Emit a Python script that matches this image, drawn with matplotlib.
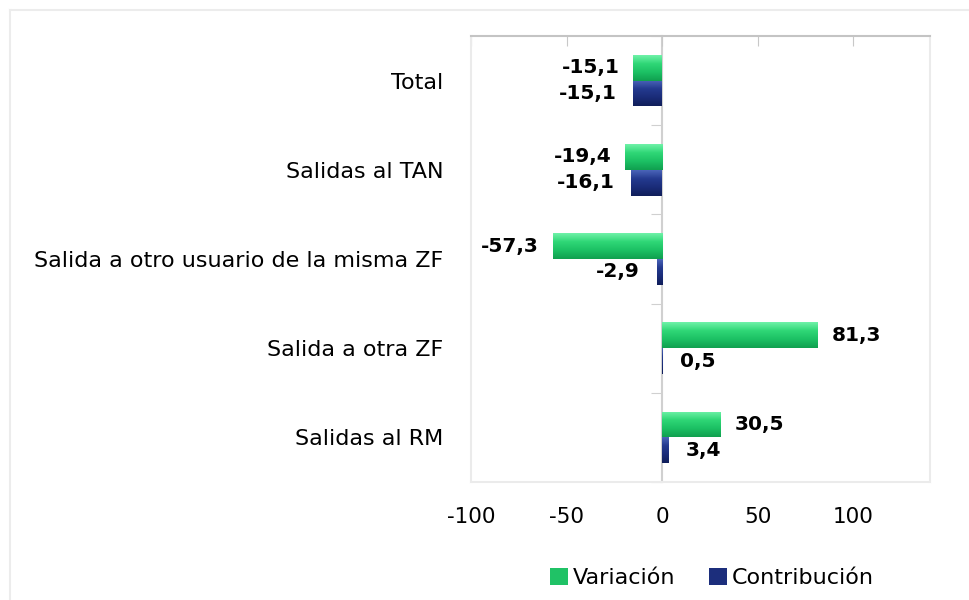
import numpy as np
import matplotlib
matplotlib.use("Agg")
import matplotlib.pyplot as plt
from matplotlib.colors import LinearSegmentedColormap
from matplotlib.lines import Line2D

categories = ["Total", "Salidas al TAN", "Salida a otro usuario de la misma ZF",
              "Salida a otra ZF", "Salidas al RM"]
variacion = [-15.1, -19.4, -57.3, 81.3, 30.5]
contribucion = [-15.1, -16.1, -2.9, 0.5, 3.4]
series_names = ["Variación", "Contribución"]
xticks = [-100, -50, 0, 50, 100]

plt.rcParams["font.family"] = ["DejaVu Sans"]

fig = plt.figure(figsize=(9.7, 6.0), dpi=100)
ax = fig.add_axes([471 / 970, 1 - 482 / 600, (930 - 471) / 970, (482 - 36) / 600])

y = np.arange(len(categories))
h = 0.29
green_cmap = LinearSegmentedColormap.from_list("g", ["#6ff2a8", "#2fd776", "#1cc064", "#10a04f"])
blue_cmap = LinearSegmentedColormap.from_list("b", ["#4a64b8", "#243a8f", "#1a2c78", "#101e5a"])

b1 = ax.barh(y - h / 2, variacion, height=h, color="#20c266", edgecolor="none", label=series_names[0])
b2 = ax.barh(y + h / 2, contribucion, height=h, color="#1c2e7c", edgecolor="none", label=series_names[1])

# gradient fill inside each bar for the bevelled look
grad = np.linspace(0, 1, 64).reshape(-1, 1)
for bars, cmap in ((b1, green_cmap), (b2, blue_cmap)):
    for p in bars.patches:
        x0, w = p.get_x(), p.get_width()
        y0, hh = p.get_y(), p.get_height()
        im = ax.imshow(grad, cmap=cmap, aspect="auto", zorder=2.5,
                       extent=(min(x0, x0 + w), max(x0, x0 + w), y0 + hh, y0))
        im.set_clip_path(p)

fmt = lambda v: f"{v:.1f}".replace(".", ",")
ax.bar_label(b1, labels=[fmt(v) for v in variacion], padding=10,
             fontsize=14.5, fontweight="bold", color="black")
ax.bar_label(b2, labels=[fmt(v) for v in contribucion], padding=12,
             fontsize=14.5, fontweight="bold", color="black")

ax.set_xlim(-100, 140)
ax.set_ylim(len(categories) - 0.5, -0.5)
ax.set_xticks(xticks, [str(t) for t in xticks])
ax.tick_params(axis="x", top=True, bottom=False, labeltop=False, labelbottom=True,
               direction="in", length=7, color="#c8c8c8", labelsize=15.5, pad=18)
ax.set_yticks(y, categories)
ax.tick_params(axis="y", length=0, labelsize=16, pad=20)

for side in ("left", "right", "bottom"):
    ax.spines[side].set_color("#ebebeb")
    ax.spines[side].set_linewidth(1.5)
ax.spines["top"].set_color("#c4c4c4")
ax.spines["top"].set_linewidth(1.5)

# vertical axis crossing at zero with separators between categories
ax2 = ax.twinx()
ax2.set_ylim(ax.get_ylim())
for side in ("top", "right", "bottom"):
    ax2.spines[side].set_visible(False)
ax2.spines["left"].set_visible(True)
ax2.spines["left"].set_position(("data", 0))
ax2.spines["left"].set_color("#d0d0d0")
ax2.spines["left"].set_linewidth(1.5)
ax2.yaxis.set_ticks_position("left")
ax2.set_yticks(np.arange(len(categories) + 1) - 0.5)
ax2.tick_params(axis="y", direction="out", length=8, color="#d0d0d0", labelleft=False, labelright=False)
ax2.set_zorder(ax.get_zorder() - 1)
ax.patch.set_visible(False)

# outer chart border
fig.add_artist(Line2D([10 / 970, 10 / 970], [0, 1 - 10 / 600], transform=fig.transFigure,
                      color="#ececec", lw=1.5))
fig.add_artist(Line2D([10 / 970, 1], [1 - 10 / 600, 1 - 10 / 600], transform=fig.transFigure,
                      color="#ececec", lw=1.5))

fig.legend([b1, b2], series_names, loc="center", bbox_to_anchor=(712 / 970, 1 - 578 / 600),
           ncol=2, frameon=False, fontsize=16, handlelength=0.8, handleheight=0.8,
           handletextpad=0.25, columnspacing=1.5)

fig.savefig("out.png", dpi=100)
